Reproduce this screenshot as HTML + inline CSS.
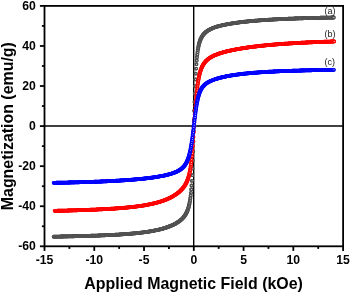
<!DOCTYPE html>
<html><head><meta charset="utf-8"><style>
html,body{margin:0;padding:0;background:#fff;}
svg{display:block;filter:blur(0.35px);}
text{font-family:"Liberation Sans",sans-serif;}
</style></head><body>
<svg width="350" height="293" viewBox="0 0 350 293">
<defs><marker id="mgray" markerWidth="6" markerHeight="6" refX="3" refY="3" markerUnits="userSpaceOnUse" overflow="visible"><circle cx="3" cy="3" r="1.2" fill="#fff" stroke="#505050" stroke-width="1.4"/></marker><marker id="mred" markerWidth="6" markerHeight="6" refX="3" refY="3" markerUnits="userSpaceOnUse" overflow="visible"><circle cx="3" cy="3" r="1.2" fill="#fff" stroke="#ff0000" stroke-width="1.4"/></marker><marker id="mblue" markerWidth="6" markerHeight="6" refX="3" refY="3" markerUnits="userSpaceOnUse" overflow="visible"><circle cx="3" cy="3" r="1.2" fill="#fff" stroke="#0000ff" stroke-width="1.4"/></marker></defs>
<rect width="350" height="293" fill="#fff"/>
<g stroke="#000" fill="none">
<line x1="193.7" y1="5.9" x2="193.7" y2="246.3" stroke-width="1.4"/>
<line x1="44.5" y1="126.1" x2="343.1" y2="126.1" stroke-width="1.5"/>
</g>
<path d="M333.54,17.48 L332.84,17.50 L332.14,17.51 L331.44,17.52 L330.74,17.54 L330.04,17.55 L329.34,17.57 L328.64,17.58 L327.94,17.59 L327.24,17.61 L326.54,17.62 L325.84,17.64 L325.14,17.65 L324.44,17.67 L323.74,17.68 L323.04,17.70 L322.34,17.72 L321.64,17.73 L320.94,17.75 L320.24,17.76 L319.54,17.78 L318.84,17.80 L318.14,17.81 L317.44,17.83 L316.74,17.85 L316.04,17.86 L315.34,17.88 L314.64,17.90 L313.94,17.92 L313.24,17.94 L312.54,17.95 L311.84,17.97 L311.14,17.99 L310.44,18.01 L309.74,18.03 L309.04,18.05 L308.35,18.07 L307.65,18.09 L306.95,18.11 L306.25,18.13 L305.55,18.15 L304.85,18.17 L304.15,18.19 L303.45,18.21 L302.75,18.23 L302.05,18.26 L301.35,18.28 L300.65,18.30 L299.95,18.32 L299.25,18.35 L298.55,18.37 L297.85,18.39 L297.15,18.42 L296.45,18.44 L295.75,18.47 L295.05,18.49 L294.35,18.52 L293.65,18.54 L292.95,18.57 L292.25,18.59 L291.55,18.62 L290.85,18.65 L290.16,18.68 L289.46,18.70 L288.76,18.73 L288.06,18.76 L287.36,18.79 L286.66,18.82 L285.96,18.85 L285.26,18.88 L284.56,18.91 L283.86,18.94 L283.16,18.97 L282.46,19.00 L281.76,19.03 L281.06,19.07 L280.36,19.10 L279.67,19.13 L278.97,19.17 L278.27,19.20 L277.57,19.24 L276.87,19.27 L276.17,19.31 L275.47,19.34 L274.77,19.38 L274.07,19.42 L273.37,19.46 L272.68,19.50 L271.98,19.54 L271.28,19.58 L270.58,19.62 L269.88,19.66 L269.18,19.70 L268.48,19.74 L267.78,19.79 L267.09,19.83 L266.39,19.88 L265.69,19.92 L264.99,19.97 L264.29,20.01 L263.59,20.06 L262.89,20.11 L262.20,20.16 L261.50,20.21 L260.80,20.26 L260.10,20.31 L259.40,20.36 L258.71,20.42 L258.01,20.47 L257.31,20.53 L256.61,20.58 L255.92,20.64 L255.22,20.70 L254.52,20.76 L253.82,20.82 L253.13,20.88 L252.43,20.94 L251.73,21.00 L251.03,21.07 L250.34,21.13 L249.64,21.20 L248.94,21.27 L248.25,21.33 L247.55,21.40 L246.85,21.48 L246.16,21.55 L245.46,21.62 L244.77,21.70 L244.07,21.77 L243.38,21.85 L242.68,21.93 L241.98,22.01 L241.29,22.10 L240.59,22.18 L239.90,22.27 L239.21,22.35 L238.51,22.44 L237.82,22.53 L237.12,22.63 L236.43,22.72 L235.74,22.82 L235.04,22.92 L234.35,23.02 L233.66,23.12 L232.97,23.23 L232.28,23.33 L231.59,23.44 L230.89,23.56 L230.20,23.67 L229.51,23.79 L228.83,23.91 L228.14,24.03 L227.45,24.16 L226.76,24.29 L226.07,24.42 L225.39,24.55 L224.70,24.69 L224.02,24.84 L223.33,24.98 L222.65,25.14 L221.97,25.29 L221.29,25.45 L220.61,25.62 L219.93,25.79 L219.25,25.96 L218.58,26.14 L217.90,26.33 L217.23,26.52 L216.56,26.72 L215.90,26.93 L215.23,27.15 L214.57,27.37 L213.91,27.61 L213.26,27.85 L212.61,28.10 L211.96,28.37 L211.32,28.64 L210.69,28.93 L210.06,29.23 L209.44,29.55 L208.83,29.88 L208.23,30.23 L207.64,30.60 L207.07,30.98 L206.50,31.38 L205.95,31.80 L205.42,32.24 L204.91,32.70 L204.42,33.17 L203.94,33.67 L203.49,34.18 L203.06,34.71 L202.65,35.26 L202.26,35.82 L201.89,36.39 L201.55,36.97 L201.22,37.57 L200.92,38.17 L200.62,38.81 L200.32,39.51 L200.02,40.26 L199.72,41.09 L199.42,41.99 L199.13,42.99 L198.83,44.11 L198.53,45.35 L198.23,46.74 L197.93,48.32 L197.63,50.11 L197.34,52.16 L197.04,54.53 L196.74,57.27 L196.44,60.46 L196.14,64.19 L195.84,68.53 L195.55,73.59 L195.25,79.44 L194.95,86.11 L194.65,93.61 L194.35,101.85 L194.05,110.68 L193.76,119.87 L193.46,130.65 L193.16,141.50 L192.86,151.57 L192.56,160.59 L192.26,168.44 L191.97,175.13 L191.67,180.78 L191.37,185.50 L191.07,189.46 L190.77,192.79 L190.48,195.60 L190.18,198.00 L189.88,200.07 L189.58,201.87 L189.28,203.44 L188.98,204.83 L188.69,206.08 L188.39,207.19 L188.09,208.20 L187.79,209.12 L187.49,209.96 L187.19,210.73 L186.90,211.44 L186.60,212.11 L186.28,212.76 L185.95,213.39 L185.60,214.02 L185.23,214.64 L184.84,215.24 L184.44,215.83 L184.01,216.41 L183.57,216.97 L183.11,217.51 L182.63,218.04 L182.14,218.55 L181.63,219.05 L181.11,219.53 L180.58,220.00 L180.04,220.45 L179.48,220.89 L178.91,221.31 L178.34,221.72 L177.75,222.11 L177.16,222.50 L176.56,222.87 L175.96,223.23 L175.35,223.57 L174.73,223.91 L174.11,224.23 L173.48,224.55 L172.85,224.86 L172.21,225.15 L171.57,225.44 L170.92,225.72 L170.28,225.99 L169.63,226.25 L168.97,226.51 L168.32,226.76 L167.66,227.00 L167.00,227.23 L166.33,227.46 L165.67,227.68 L165.00,227.89 L164.33,228.10 L163.66,228.30 L162.99,228.50 L162.31,228.69 L161.64,228.88 L160.96,229.06 L160.28,229.23 L159.60,229.40 L158.92,229.57 L158.24,229.73 L157.56,229.89 L156.87,230.04 L156.19,230.19 L155.50,230.33 L154.82,230.47 L154.13,230.61 L153.44,230.74 L152.75,230.87 L152.07,231.00 L151.38,231.12 L150.69,231.24 L150.00,231.36 L149.31,231.47 L148.61,231.58 L147.92,231.69 L147.23,231.80 L146.54,231.90 L145.84,232.00 L145.15,232.09 L144.46,232.19 L143.76,232.28 L143.07,232.37 L142.37,232.46 L141.68,232.55 L140.98,232.63 L140.29,232.71 L139.59,232.79 L138.90,232.87 L138.20,232.95 L137.51,233.02 L136.81,233.10 L136.11,233.17 L135.42,233.24 L134.72,233.30 L134.02,233.37 L133.33,233.44 L132.63,233.50 L131.93,233.56 L131.23,233.62 L130.54,233.68 L129.84,233.74 L129.14,233.80 L128.44,233.86 L127.75,233.91 L127.05,233.96 L126.35,234.02 L125.65,234.07 L124.95,234.12 L124.25,234.17 L123.56,234.22 L122.86,234.27 L122.16,234.31 L121.46,234.36 L120.76,234.40 L120.06,234.45 L119.37,234.49 L118.67,234.54 L117.97,234.58 L117.27,234.62 L116.57,234.66 L115.87,234.70 L115.17,234.74 L114.47,234.78 L113.77,234.81 L113.08,234.85 L112.38,234.89 L111.68,234.92 L110.98,234.96 L110.28,234.99 L109.58,235.03 L108.88,235.06 L108.18,235.09 L107.48,235.13 L106.78,235.16 L106.08,235.19 L105.38,235.22 L104.68,235.25 L103.99,235.28 L103.29,235.31 L102.59,235.34 L101.89,235.37 L101.19,235.40 L100.49,235.42 L99.79,235.45 L99.09,235.48 L98.39,235.50 L97.69,235.53 L96.99,235.56 L96.29,235.58 L95.59,235.61 L94.89,235.63 L94.19,235.66 L93.49,235.68 L92.79,235.70 L92.09,235.73 L91.39,235.75 L90.69,235.77 L89.99,235.79 L89.29,235.82 L88.60,235.84 L87.90,235.86 L87.20,235.88 L86.50,235.90 L85.80,235.92 L85.10,235.94 L84.40,235.96 L83.70,235.98 L83.00,236.00 L82.30,236.02 L81.60,236.04 L80.90,236.06 L80.20,236.08 L79.50,236.10 L78.80,236.12 L78.10,236.13 L77.40,236.15 L76.70,236.17 L76.00,236.19 L75.30,236.20 L74.60,236.22 L73.90,236.24 L73.20,236.25 L72.50,236.27 L71.80,236.29 L71.10,236.30 L70.40,236.32 L69.70,236.33 L69.00,236.35 L68.30,236.36 L67.60,236.38 L66.90,236.39 L66.20,236.41 L65.50,236.42 L64.80,236.44 L64.10,236.45 L63.40,236.47 L62.70,236.48 L62.00,236.50 L61.30,236.51 L60.60,236.52 L59.90,236.54 L59.20,236.55 L58.50,236.56 L57.80,236.58 L57.10,236.59 L56.40,236.60 L55.70,236.61 L55.00,236.63 L54.30,236.64 L53.60,236.65" fill="none" stroke="none" marker-start="url(#mgray)" marker-mid="url(#mgray)" marker-end="url(#mgray)"/>
<path d="M54.00,236.65 L54.70,236.64 L55.40,236.63 L56.10,236.61 L56.80,236.60 L57.50,236.59 L58.20,236.58 L58.90,236.56 L59.60,236.55 L60.30,236.54 L61.00,236.52 L61.70,236.51 L62.40,236.50 L63.10,236.48 L63.80,236.47 L64.50,236.45 L65.20,236.44 L65.90,236.42 L66.60,236.41 L67.30,236.39 L68.00,236.38 L68.70,236.36 L69.40,236.35 L70.10,236.33 L70.80,236.32 L71.50,236.30 L72.20,236.29 L72.90,236.27 L73.60,236.25 L74.30,236.24 L75.00,236.22 L75.70,236.20 L76.40,236.19 L77.10,236.17 L77.80,236.15 L78.50,236.13 L79.20,236.12 L79.90,236.10 L80.60,236.08 L81.30,236.06 L82.00,236.04 L82.70,236.02 L83.40,236.00 L84.10,235.98 L84.79,235.96 L85.49,235.94 L86.19,235.92 L86.89,235.90 L87.59,235.88 L88.29,235.86 L88.99,235.84 L89.69,235.82 L90.39,235.79 L91.09,235.77 L91.79,235.75 L92.49,235.73 L93.19,235.70 L93.89,235.68 L94.59,235.66 L95.29,235.63 L95.99,235.61 L96.69,235.58 L97.39,235.56 L98.09,235.53 L98.79,235.50 L99.49,235.48 L100.19,235.45 L100.89,235.42 L101.59,235.40 L102.28,235.37 L102.98,235.34 L103.68,235.31 L104.38,235.28 L105.08,235.25 L105.78,235.22 L106.48,235.19 L107.18,235.16 L107.88,235.13 L108.58,235.09 L109.28,235.06 L109.98,235.03 L110.68,234.99 L111.38,234.96 L112.07,234.92 L112.77,234.89 L113.47,234.85 L114.17,234.81 L114.87,234.78 L115.57,234.74 L116.27,234.70 L116.97,234.66 L117.67,234.62 L118.37,234.58 L119.06,234.54 L119.76,234.49 L120.46,234.45 L121.16,234.40 L121.86,234.36 L122.56,234.31 L123.26,234.27 L123.95,234.22 L124.65,234.17 L125.35,234.12 L126.05,234.07 L126.75,234.02 L127.45,233.96 L128.14,233.91 L128.84,233.86 L129.54,233.80 L130.24,233.74 L130.93,233.68 L131.63,233.62 L132.33,233.56 L133.03,233.50 L133.72,233.44 L134.42,233.37 L135.12,233.30 L135.81,233.24 L136.51,233.17 L137.21,233.10 L137.90,233.02 L138.60,232.95 L139.30,232.87 L139.99,232.79 L140.69,232.71 L141.38,232.63 L142.08,232.55 L142.77,232.46 L143.47,232.37 L144.16,232.28 L144.85,232.19 L145.55,232.09 L146.24,232.00 L146.93,231.90 L147.63,231.80 L148.32,231.69 L149.01,231.58 L149.70,231.47 L150.39,231.36 L151.08,231.24 L151.77,231.12 L152.46,231.00 L153.15,230.87 L153.84,230.74 L154.53,230.61 L155.22,230.47 L155.90,230.33 L156.59,230.19 L157.27,230.04 L157.96,229.89 L158.64,229.73 L159.32,229.57 L160.00,229.40 L160.68,229.23 L161.36,229.06 L162.04,228.88 L162.71,228.69 L163.39,228.50 L164.06,228.30 L164.73,228.10 L165.40,227.89 L166.07,227.68 L166.73,227.46 L167.39,227.23 L168.06,227.00 L168.71,226.76 L169.37,226.51 L170.02,226.25 L170.67,225.99 L171.32,225.72 L171.97,225.44 L172.61,225.15 L173.24,224.86 L173.88,224.55 L174.50,224.23 L175.13,223.91 L175.74,223.57 L176.36,223.23 L176.96,222.87 L177.56,222.50 L178.15,222.11 L178.74,221.72 L179.31,221.31 L179.88,220.89 L180.43,220.45 L180.98,220.00 L181.51,219.53 L182.03,219.05 L182.54,218.55 L183.03,218.04 L183.51,217.51 L183.97,216.97 L184.41,216.41 L184.83,215.83 L185.24,215.24 L185.63,214.64 L186.00,214.02 L186.35,213.39 L186.68,212.76 L187.00,212.11 L187.29,211.44 L187.59,210.73 L187.89,209.96 L188.19,209.12 L188.49,208.20 L188.78,207.19 L189.08,206.08 L189.38,204.83 L189.68,203.44 L189.98,201.87 L190.28,200.07 L190.57,198.00 L190.87,195.60 L191.17,192.79 L191.47,189.46 L191.77,185.50 L192.07,180.78 L192.36,175.13 L192.66,168.44 L192.96,160.59 L193.26,151.57 L193.56,141.50 L193.86,130.65 L194.15,119.87 L194.45,110.68 L194.75,101.85 L195.05,93.61 L195.35,86.11 L195.65,79.44 L195.94,73.59 L196.24,68.53 L196.54,64.19 L196.84,60.46 L197.14,57.27 L197.44,54.53 L197.73,52.16 L198.03,50.11 L198.33,48.32 L198.63,46.74 L198.93,45.35 L199.23,44.11 L199.52,42.99 L199.82,41.99 L200.12,41.09 L200.42,40.26 L200.72,39.51 L201.01,38.81 L201.31,38.17 L201.62,37.57 L201.94,36.97 L202.29,36.39 L202.66,35.82 L203.04,35.26 L203.45,34.71 L203.89,34.18 L204.34,33.67 L204.81,33.17 L205.31,32.70 L205.82,32.24 L206.35,31.80 L206.90,31.38 L207.46,30.98 L208.04,30.60 L208.63,30.23 L209.23,29.88 L209.84,29.55 L210.46,29.23 L211.09,28.93 L211.72,28.64 L212.36,28.37 L213.00,28.10 L213.65,27.85 L214.31,27.61 L214.97,27.37 L215.63,27.15 L216.29,26.93 L216.96,26.72 L217.63,26.52 L218.30,26.33 L218.97,26.14 L219.65,25.96 L220.33,25.79 L221.00,25.62 L221.68,25.45 L222.37,25.29 L223.05,25.14 L223.73,24.98 L224.41,24.84 L225.10,24.69 L225.78,24.55 L226.47,24.42 L227.16,24.29 L227.85,24.16 L228.53,24.03 L229.22,23.91 L229.91,23.79 L230.60,23.67 L231.29,23.56 L231.98,23.44 L232.67,23.33 L233.37,23.23 L234.06,23.12 L234.75,23.02 L235.44,22.92 L236.14,22.82 L236.83,22.72 L237.52,22.63 L238.22,22.53 L238.91,22.44 L239.60,22.35 L240.30,22.27 L240.99,22.18 L241.69,22.10 L242.38,22.01 L243.08,21.93 L243.77,21.85 L244.47,21.77 L245.16,21.70 L245.86,21.62 L246.56,21.55 L247.25,21.48 L247.95,21.40 L248.64,21.33 L249.34,21.27 L250.04,21.20 L250.73,21.13 L251.43,21.07 L252.13,21.00 L252.83,20.94 L253.52,20.88 L254.22,20.82 L254.92,20.76 L255.62,20.70 L256.31,20.64 L257.01,20.58 L257.71,20.53 L258.41,20.47 L259.10,20.42 L259.80,20.36 L260.50,20.31 L261.20,20.26 L261.90,20.21 L262.59,20.16 L263.29,20.11 L263.99,20.06 L264.69,20.01 L265.39,19.97 L266.09,19.92 L266.78,19.88 L267.48,19.83 L268.18,19.79 L268.88,19.74 L269.58,19.70 L270.28,19.66 L270.98,19.62 L271.68,19.58 L272.37,19.54 L273.07,19.50 L273.77,19.46 L274.47,19.42 L275.17,19.38 L275.87,19.34 L276.57,19.31 L277.27,19.27 L277.97,19.24 L278.66,19.20 L279.36,19.17 L280.06,19.13 L280.76,19.10 L281.46,19.07 L282.16,19.03 L282.86,19.00 L283.56,18.97 L284.26,18.94 L284.96,18.91 L285.66,18.88 L286.36,18.85 L287.06,18.82 L287.76,18.79 L288.45,18.76 L289.15,18.73 L289.85,18.70 L290.55,18.68 L291.25,18.65 L291.95,18.62 L292.65,18.59 L293.35,18.57 L294.05,18.54 L294.75,18.52 L295.45,18.49 L296.15,18.47 L296.85,18.44 L297.55,18.42 L298.25,18.39 L298.95,18.37 L299.65,18.35 L300.35,18.32 L301.05,18.30 L301.75,18.28 L302.45,18.26 L303.15,18.23 L303.84,18.21 L304.54,18.19 L305.24,18.17 L305.94,18.15 L306.64,18.13 L307.34,18.11 L308.04,18.09 L308.74,18.07 L309.44,18.05 L310.14,18.03 L310.84,18.01 L311.54,17.99 L312.24,17.97 L312.94,17.95 L313.64,17.94 L314.34,17.92 L315.04,17.90 L315.74,17.88 L316.44,17.86 L317.14,17.85 L317.84,17.83 L318.54,17.81 L319.24,17.80 L319.94,17.78 L320.64,17.76 L321.34,17.75 L322.04,17.73 L322.74,17.72 L323.44,17.70 L324.14,17.68 L324.84,17.67 L325.54,17.65 L326.24,17.64 L326.94,17.62 L327.64,17.61 L328.34,17.59 L329.04,17.58 L329.74,17.57 L330.44,17.55 L331.14,17.54 L331.84,17.52 L332.54,17.51 L333.24,17.50 L333.94,17.48" fill="none" stroke="none" marker-start="url(#mgray)" marker-mid="url(#mgray)" marker-end="url(#mgray)"/>
<path d="M333.86,41.43 L333.16,41.45 L332.46,41.48 L331.77,41.50 L331.07,41.52 L330.37,41.55 L329.67,41.57 L328.97,41.59 L328.27,41.62 L327.57,41.64 L326.87,41.66 L326.17,41.69 L325.47,41.71 L324.77,41.74 L324.07,41.76 L323.37,41.79 L322.67,41.81 L321.97,41.84 L321.27,41.87 L320.57,41.89 L319.87,41.92 L319.17,41.95 L318.47,41.97 L317.77,42.00 L317.07,42.03 L316.38,42.06 L315.68,42.09 L314.98,42.12 L314.28,42.15 L313.58,42.18 L312.88,42.20 L312.18,42.23 L311.48,42.27 L310.78,42.30 L310.08,42.33 L309.38,42.36 L308.68,42.39 L307.98,42.42 L307.28,42.46 L306.58,42.49 L305.89,42.52 L305.19,42.56 L304.49,42.59 L303.79,42.62 L303.09,42.66 L302.39,42.69 L301.69,42.73 L300.99,42.77 L300.29,42.80 L299.59,42.84 L298.89,42.88 L298.20,42.91 L297.50,42.95 L296.80,42.99 L296.10,43.03 L295.40,43.07 L294.70,43.11 L294.00,43.15 L293.30,43.19 L292.61,43.23 L291.91,43.28 L291.21,43.32 L290.51,43.36 L289.81,43.40 L289.11,43.45 L288.41,43.49 L287.71,43.54 L287.02,43.58 L286.32,43.63 L285.62,43.68 L284.92,43.73 L284.22,43.77 L283.52,43.82 L282.83,43.87 L282.13,43.92 L281.43,43.97 L280.73,44.02 L280.03,44.08 L279.34,44.13 L278.64,44.18 L277.94,44.24 L277.24,44.29 L276.54,44.35 L275.85,44.40 L275.15,44.46 L274.45,44.52 L273.75,44.57 L273.06,44.63 L272.36,44.69 L271.66,44.75 L270.96,44.82 L270.27,44.88 L269.57,44.94 L268.87,45.00 L268.18,45.07 L267.48,45.14 L266.78,45.20 L266.09,45.27 L265.39,45.34 L264.69,45.41 L264.00,45.48 L263.30,45.55 L262.60,45.62 L261.91,45.69 L261.21,45.77 L260.52,45.84 L259.82,45.92 L259.12,46.00 L258.43,46.07 L257.73,46.15 L257.04,46.23 L256.34,46.32 L255.65,46.40 L254.95,46.48 L254.26,46.57 L253.56,46.66 L252.87,46.74 L252.17,46.83 L251.48,46.92 L250.79,47.01 L250.09,47.11 L249.40,47.20 L248.71,47.30 L248.01,47.39 L247.32,47.49 L246.63,47.59 L245.94,47.69 L245.24,47.80 L244.55,47.90 L243.86,48.01 L243.17,48.12 L242.48,48.23 L241.79,48.34 L241.09,48.45 L240.40,48.56 L239.71,48.68 L239.02,48.80 L238.34,48.92 L237.65,49.04 L236.96,49.17 L236.27,49.29 L235.58,49.42 L234.89,49.56 L234.21,49.69 L233.52,49.83 L232.84,49.96 L232.15,50.11 L231.47,50.25 L230.78,50.40 L230.10,50.55 L229.41,50.70 L228.73,50.85 L228.05,51.01 L227.37,51.17 L226.69,51.34 L226.01,51.51 L225.34,51.68 L224.66,51.86 L223.98,52.04 L223.31,52.23 L222.64,52.42 L221.96,52.61 L221.29,52.81 L220.63,53.02 L219.96,53.23 L219.30,53.45 L218.64,53.67 L217.98,53.91 L217.32,54.14 L216.67,54.39 L216.02,54.64 L215.37,54.91 L214.73,55.18 L214.09,55.46 L213.46,55.75 L212.83,56.06 L212.21,56.37 L211.59,56.70 L210.99,57.04 L210.39,57.39 L209.80,57.76 L209.22,58.14 L208.65,58.54 L208.10,58.96 L207.56,59.39 L207.03,59.83 L206.52,60.29 L206.03,60.77 L205.55,61.27 L205.09,61.78 L204.65,62.30 L204.23,62.84 L203.83,63.40 L203.44,63.96 L203.08,64.54 L202.73,65.13 L202.41,65.72 L202.09,66.33 L201.80,66.95 L201.50,67.62 L201.20,68.34 L200.90,69.11 L200.60,69.94 L200.30,70.84 L200.01,71.81 L199.71,72.87 L199.41,74.03 L199.11,75.28 L198.81,76.66 L198.51,78.16 L198.22,79.81 L197.92,81.61 L197.62,83.59 L197.32,85.74 L197.02,88.10 L196.73,90.65 L196.43,93.42 L196.13,96.40 L195.83,99.59 L195.53,102.99 L195.23,106.56 L194.94,110.29 L194.64,114.15 L194.34,118.09 L194.04,122.12 L193.74,127.19 L193.44,132.16 L193.15,136.95 L192.85,141.51 L192.55,145.77 L192.25,149.72 L191.95,153.33 L191.65,156.60 L191.36,159.56 L191.06,162.22 L190.76,164.60 L190.46,166.74 L190.16,168.66 L189.86,170.38 L189.57,171.94 L189.27,173.34 L188.97,174.62 L188.67,175.78 L188.37,176.85 L188.07,177.83 L187.78,178.73 L187.48,179.57 L187.18,180.35 L186.88,181.08 L186.58,181.76 L186.28,182.41 L185.96,183.05 L185.63,183.69 L185.28,184.31 L184.92,184.93 L184.54,185.53 L184.14,186.13 L183.73,186.71 L183.31,187.28 L182.87,187.84 L182.42,188.39 L181.95,188.93 L181.47,189.45 L180.98,189.96 L180.48,190.46 L179.97,190.95 L179.45,191.43 L178.92,191.89 L178.38,192.34 L177.83,192.79 L177.27,193.22 L176.70,193.64 L176.13,194.05 L175.55,194.45 L174.97,194.84 L174.38,195.22 L173.78,195.59 L173.18,195.96 L172.57,196.31 L171.96,196.65 L171.34,196.99 L170.72,197.32 L170.09,197.64 L169.46,197.95 L168.83,198.25 L168.19,198.55 L167.55,198.84 L166.91,199.12 L166.26,199.39 L165.61,199.66 L164.96,199.92 L164.31,200.17 L163.65,200.41 L162.99,200.65 L162.33,200.89 L161.67,201.12 L161.00,201.34 L160.34,201.55 L159.67,201.76 L159.00,201.97 L158.33,202.17 L157.65,202.36 L156.98,202.55 L156.30,202.74 L155.62,202.91 L154.95,203.09 L154.27,203.26 L153.59,203.43 L152.90,203.59 L152.22,203.74 L151.54,203.90 L150.85,204.05 L150.17,204.19 L149.48,204.33 L148.80,204.47 L148.11,204.61 L147.42,204.74 L146.73,204.87 L146.04,204.99 L145.35,205.12 L144.66,205.23 L143.97,205.35 L143.28,205.46 L142.59,205.57 L141.90,205.68 L141.21,205.79 L140.52,205.89 L139.82,205.99 L139.13,206.09 L138.44,206.19 L137.74,206.28 L137.05,206.37 L136.35,206.46 L135.66,206.55 L134.96,206.63 L134.27,206.72 L133.57,206.80 L132.88,206.88 L132.18,206.96 L131.49,207.04 L130.79,207.11 L130.09,207.18 L129.40,207.26 L128.70,207.33 L128.00,207.40 L127.31,207.46 L126.61,207.53 L125.91,207.60 L125.22,207.66 L124.52,207.72 L123.82,207.78 L123.12,207.84 L122.43,207.90 L121.73,207.96 L121.03,208.02 L120.33,208.07 L119.64,208.13 L118.94,208.18 L118.24,208.24 L117.54,208.29 L116.84,208.34 L116.15,208.39 L115.45,208.44 L114.75,208.49 L114.05,208.53 L113.35,208.58 L112.65,208.63 L111.96,208.67 L111.26,208.72 L110.56,208.76 L109.86,208.80 L109.16,208.84 L108.46,208.89 L107.76,208.93 L107.06,208.97 L106.36,209.01 L105.67,209.05 L104.97,209.08 L104.27,209.12 L103.57,209.16 L102.87,209.20 L102.17,209.23 L101.47,209.27 L100.77,209.30 L100.07,209.34 L99.37,209.37 L98.68,209.40 L97.98,209.44 L97.28,209.47 L96.58,209.50 L95.88,209.53 L95.18,209.56 L94.48,209.60 L93.78,209.63 L93.08,209.66 L92.38,209.68 L91.68,209.71 L90.98,209.74 L90.28,209.77 L89.58,209.80 L88.88,209.83 L88.18,209.85 L87.49,209.88 L86.79,209.91 L86.09,209.93 L85.39,209.96 L84.69,209.98 L83.99,210.01 L83.29,210.03 L82.59,210.06 L81.89,210.08 L81.19,210.11 L80.49,210.13 L79.79,210.15 L79.09,210.18 L78.39,210.20 L77.69,210.22 L76.99,210.24 L76.29,210.27 L75.59,210.29 L74.89,210.31 L74.19,210.33 L73.49,210.35 L72.79,210.37 L72.09,210.39 L71.39,210.41 L70.69,210.43 L69.99,210.45 L69.29,210.47 L68.59,210.49 L67.90,210.51 L67.20,210.53 L66.50,210.55 L65.80,210.57 L65.10,210.58 L64.40,210.60 L63.70,210.62 L63.00,210.64 L62.30,210.66 L61.60,210.67 L60.90,210.69 L60.20,210.71 L59.50,210.72 L58.80,210.74 L58.10,210.76 L57.40,210.77 L56.70,210.79 L56.00,210.80 L55.30,210.82 L54.60,210.84" fill="none" stroke="none" marker-start="url(#mred)" marker-mid="url(#mred)" marker-end="url(#mred)"/>
<path d="M55.00,210.84 L55.70,210.82 L56.40,210.80 L57.10,210.79 L57.80,210.77 L58.50,210.76 L59.20,210.74 L59.90,210.72 L60.60,210.71 L61.30,210.69 L61.99,210.67 L62.69,210.66 L63.39,210.64 L64.09,210.62 L64.79,210.60 L65.49,210.58 L66.19,210.57 L66.89,210.55 L67.59,210.53 L68.29,210.51 L68.99,210.49 L69.69,210.47 L70.39,210.45 L71.09,210.43 L71.79,210.41 L72.49,210.39 L73.19,210.37 L73.89,210.35 L74.59,210.33 L75.29,210.31 L75.99,210.29 L76.69,210.27 L77.39,210.24 L78.09,210.22 L78.79,210.20 L79.49,210.18 L80.19,210.15 L80.89,210.13 L81.59,210.11 L82.29,210.08 L82.99,210.06 L83.69,210.03 L84.39,210.01 L85.08,209.98 L85.78,209.96 L86.48,209.93 L87.18,209.91 L87.88,209.88 L88.58,209.85 L89.28,209.83 L89.98,209.80 L90.68,209.77 L91.38,209.74 L92.08,209.71 L92.78,209.68 L93.48,209.66 L94.18,209.63 L94.88,209.60 L95.58,209.56 L96.28,209.53 L96.98,209.50 L97.67,209.47 L98.37,209.44 L99.07,209.40 L99.77,209.37 L100.47,209.34 L101.17,209.30 L101.87,209.27 L102.57,209.23 L103.27,209.20 L103.97,209.16 L104.67,209.12 L105.36,209.08 L106.06,209.05 L106.76,209.01 L107.46,208.97 L108.16,208.93 L108.86,208.89 L109.56,208.84 L110.26,208.80 L110.96,208.76 L111.65,208.72 L112.35,208.67 L113.05,208.63 L113.75,208.58 L114.45,208.53 L115.15,208.49 L115.85,208.44 L116.54,208.39 L117.24,208.34 L117.94,208.29 L118.64,208.24 L119.34,208.18 L120.03,208.13 L120.73,208.07 L121.43,208.02 L122.13,207.96 L122.82,207.90 L123.52,207.84 L124.22,207.78 L124.92,207.72 L125.61,207.66 L126.31,207.60 L127.01,207.53 L127.71,207.46 L128.40,207.40 L129.10,207.33 L129.80,207.26 L130.49,207.18 L131.19,207.11 L131.88,207.04 L132.58,206.96 L133.28,206.88 L133.97,206.80 L134.67,206.72 L135.36,206.63 L136.06,206.55 L136.75,206.46 L137.45,206.37 L138.14,206.28 L138.83,206.19 L139.53,206.09 L140.22,205.99 L140.91,205.89 L141.61,205.79 L142.30,205.68 L142.99,205.57 L143.68,205.46 L144.37,205.35 L145.06,205.23 L145.75,205.12 L146.44,204.99 L147.13,204.87 L147.82,204.74 L148.51,204.61 L149.19,204.47 L149.88,204.33 L150.57,204.19 L151.25,204.05 L151.94,203.90 L152.62,203.74 L153.30,203.59 L153.98,203.43 L154.66,203.26 L155.34,203.09 L156.02,202.91 L156.70,202.74 L157.38,202.55 L158.05,202.36 L158.72,202.17 L159.40,201.97 L160.07,201.76 L160.73,201.55 L161.40,201.34 L162.07,201.12 L162.73,200.89 L163.39,200.65 L164.05,200.41 L164.71,200.17 L165.36,199.92 L166.01,199.66 L166.66,199.39 L167.31,199.12 L167.95,198.84 L168.59,198.55 L169.23,198.25 L169.86,197.95 L170.49,197.64 L171.11,197.32 L171.74,196.99 L172.35,196.65 L172.97,196.31 L173.57,195.96 L174.18,195.59 L174.77,195.22 L175.36,194.84 L175.95,194.45 L176.53,194.05 L177.10,193.64 L177.67,193.22 L178.22,192.79 L178.77,192.34 L179.31,191.89 L179.85,191.43 L180.37,190.95 L180.88,190.46 L181.38,189.96 L181.87,189.45 L182.35,188.93 L182.81,188.39 L183.27,187.84 L183.71,187.28 L184.13,186.71 L184.54,186.13 L184.93,185.53 L185.31,184.93 L185.68,184.31 L186.03,183.69 L186.36,183.05 L186.68,182.41 L186.98,181.76 L187.28,181.08 L187.58,180.35 L187.88,179.57 L188.17,178.73 L188.47,177.83 L188.77,176.85 L189.07,175.78 L189.37,174.62 L189.67,173.34 L189.96,171.94 L190.26,170.38 L190.56,168.66 L190.86,166.74 L191.16,164.60 L191.46,162.22 L191.75,159.56 L192.05,156.60 L192.35,153.33 L192.65,149.72 L192.95,145.77 L193.25,141.51 L193.54,136.95 L193.84,132.16 L194.14,127.19 L194.44,122.12 L194.74,118.09 L195.03,114.15 L195.33,110.29 L195.63,106.56 L195.93,102.99 L196.23,99.59 L196.53,96.40 L196.82,93.42 L197.12,90.65 L197.42,88.10 L197.72,85.74 L198.02,83.59 L198.32,81.61 L198.61,79.81 L198.91,78.16 L199.21,76.66 L199.51,75.28 L199.81,74.03 L200.11,72.87 L200.40,71.81 L200.70,70.84 L201.00,69.94 L201.30,69.11 L201.60,68.34 L201.90,67.62 L202.19,66.95 L202.49,66.33 L202.80,65.72 L203.13,65.13 L203.48,64.54 L203.84,63.96 L204.22,63.40 L204.63,62.84 L205.05,62.30 L205.49,61.78 L205.95,61.27 L206.42,60.77 L206.92,60.29 L207.43,59.83 L207.95,59.39 L208.50,58.96 L209.05,58.54 L209.62,58.14 L210.20,57.76 L210.79,57.39 L211.38,57.04 L211.99,56.70 L212.60,56.37 L213.23,56.06 L213.85,55.75 L214.49,55.46 L215.12,55.18 L215.77,54.91 L216.41,54.64 L217.06,54.39 L217.72,54.14 L218.37,53.91 L219.03,53.67 L219.69,53.45 L220.36,53.23 L221.02,53.02 L221.69,52.81 L222.36,52.61 L223.03,52.42 L223.71,52.23 L224.38,52.04 L225.06,51.86 L225.73,51.68 L226.41,51.51 L227.09,51.34 L227.77,51.17 L228.45,51.01 L229.13,50.85 L229.81,50.70 L230.50,50.55 L231.18,50.40 L231.86,50.25 L232.55,50.11 L233.23,49.96 L233.92,49.83 L234.61,49.69 L235.29,49.56 L235.98,49.42 L236.67,49.29 L237.36,49.17 L238.04,49.04 L238.73,48.92 L239.42,48.80 L240.11,48.68 L240.80,48.56 L241.49,48.45 L242.18,48.34 L242.87,48.23 L243.57,48.12 L244.26,48.01 L244.95,47.90 L245.64,47.80 L246.33,47.69 L247.03,47.59 L247.72,47.49 L248.41,47.39 L249.10,47.30 L249.80,47.20 L250.49,47.11 L251.18,47.01 L251.88,46.92 L252.57,46.83 L253.27,46.74 L253.96,46.66 L254.66,46.57 L255.35,46.48 L256.05,46.40 L256.74,46.32 L257.44,46.23 L258.13,46.15 L258.83,46.07 L259.52,46.00 L260.22,45.92 L260.91,45.84 L261.61,45.77 L262.31,45.69 L263.00,45.62 L263.70,45.55 L264.39,45.48 L265.09,45.41 L265.79,45.34 L266.48,45.27 L267.18,45.20 L267.88,45.14 L268.57,45.07 L269.27,45.00 L269.97,44.94 L270.66,44.88 L271.36,44.82 L272.06,44.75 L272.76,44.69 L273.45,44.63 L274.15,44.57 L274.85,44.52 L275.55,44.46 L276.24,44.40 L276.94,44.35 L277.64,44.29 L278.34,44.24 L279.04,44.18 L279.73,44.13 L280.43,44.08 L281.13,44.02 L281.83,43.97 L282.53,43.92 L283.22,43.87 L283.92,43.82 L284.62,43.77 L285.32,43.73 L286.02,43.68 L286.72,43.63 L287.41,43.58 L288.11,43.54 L288.81,43.49 L289.51,43.45 L290.21,43.40 L290.91,43.36 L291.61,43.32 L292.30,43.28 L293.00,43.23 L293.70,43.19 L294.40,43.15 L295.10,43.11 L295.80,43.07 L296.50,43.03 L297.20,42.99 L297.89,42.95 L298.59,42.91 L299.29,42.88 L299.99,42.84 L300.69,42.80 L301.39,42.77 L302.09,42.73 L302.79,42.69 L303.49,42.66 L304.19,42.62 L304.89,42.59 L305.58,42.56 L306.28,42.52 L306.98,42.49 L307.68,42.46 L308.38,42.42 L309.08,42.39 L309.78,42.36 L310.48,42.33 L311.18,42.30 L311.88,42.27 L312.58,42.23 L313.28,42.20 L313.98,42.18 L314.67,42.15 L315.37,42.12 L316.07,42.09 L316.77,42.06 L317.47,42.03 L318.17,42.00 L318.87,41.97 L319.57,41.95 L320.27,41.92 L320.97,41.89 L321.67,41.87 L322.37,41.84 L323.07,41.81 L323.77,41.79 L324.47,41.76 L325.17,41.74 L325.87,41.71 L326.57,41.69 L327.27,41.66 L327.97,41.64 L328.66,41.62 L329.36,41.59 L330.06,41.57 L330.76,41.55 L331.46,41.52 L332.16,41.50 L332.86,41.48 L333.56,41.45 L334.26,41.43" fill="none" stroke="none" marker-start="url(#mred)" marker-mid="url(#mred)" marker-end="url(#mred)"/>
<path d="M333.58,69.81 L332.88,69.82 L332.18,69.83 L331.48,69.84 L330.78,69.85 L330.08,69.86 L329.38,69.88 L328.68,69.89 L327.98,69.90 L327.28,69.91 L326.58,69.93 L325.88,69.94 L325.18,69.95 L324.48,69.96 L323.78,69.98 L323.08,69.99 L322.38,70.00 L321.68,70.02 L320.98,70.03 L320.28,70.04 L319.58,70.06 L318.88,70.07 L318.18,70.09 L317.48,70.10 L316.78,70.12 L316.08,70.13 L315.38,70.15 L314.68,70.16 L313.98,70.18 L313.28,70.19 L312.58,70.21 L311.88,70.22 L311.18,70.24 L310.48,70.25 L309.78,70.27 L309.08,70.29 L308.39,70.30 L307.69,70.32 L306.99,70.34 L306.29,70.36 L305.59,70.37 L304.89,70.39 L304.19,70.41 L303.49,70.43 L302.79,70.45 L302.09,70.46 L301.39,70.48 L300.69,70.50 L299.99,70.52 L299.29,70.54 L298.59,70.56 L297.89,70.58 L297.19,70.60 L296.49,70.62 L295.79,70.64 L295.09,70.67 L294.39,70.69 L293.69,70.71 L292.99,70.73 L292.29,70.75 L291.59,70.78 L290.89,70.80 L290.19,70.82 L289.49,70.85 L288.79,70.87 L288.09,70.90 L287.39,70.92 L286.69,70.95 L286.00,70.97 L285.30,71.00 L284.60,71.03 L283.90,71.05 L283.20,71.08 L282.50,71.11 L281.80,71.14 L281.10,71.16 L280.40,71.19 L279.70,71.22 L279.00,71.25 L278.30,71.28 L277.60,71.31 L276.90,71.35 L276.20,71.38 L275.50,71.41 L274.81,71.44 L274.11,71.48 L273.41,71.51 L272.71,71.55 L272.01,71.58 L271.31,71.62 L270.61,71.65 L269.91,71.69 L269.21,71.73 L268.51,71.77 L267.81,71.81 L267.12,71.85 L266.42,71.89 L265.72,71.93 L265.02,71.97 L264.32,72.01 L263.62,72.05 L262.92,72.10 L262.23,72.14 L261.53,72.19 L260.83,72.24 L260.13,72.28 L259.43,72.33 L258.73,72.38 L258.04,72.43 L257.34,72.48 L256.64,72.54 L255.94,72.59 L255.24,72.64 L254.55,72.70 L253.85,72.76 L253.15,72.81 L252.45,72.87 L251.76,72.93 L251.06,72.99 L250.36,73.06 L249.66,73.12 L248.97,73.19 L248.27,73.25 L247.57,73.32 L246.88,73.39 L246.18,73.46 L245.49,73.53 L244.79,73.61 L244.09,73.68 L243.40,73.76 L242.70,73.84 L242.01,73.92 L241.31,74.00 L240.62,74.08 L239.92,74.17 L239.23,74.25 L238.53,74.34 L237.84,74.44 L237.15,74.53 L236.45,74.62 L235.76,74.72 L235.07,74.82 L234.37,74.92 L233.68,75.03 L232.99,75.14 L232.30,75.24 L231.61,75.36 L230.92,75.47 L230.23,75.59 L229.54,75.71 L228.85,75.83 L228.16,75.96 L227.48,76.09 L226.79,76.22 L226.10,76.36 L225.42,76.50 L224.73,76.64 L224.05,76.79 L223.36,76.94 L222.68,77.09 L222.00,77.25 L221.32,77.41 L220.64,77.58 L219.96,77.75 L219.29,77.93 L218.61,78.11 L217.94,78.30 L217.27,78.50 L216.60,78.70 L215.93,78.91 L215.27,79.12 L214.61,79.35 L213.95,79.58 L213.29,79.81 L212.64,80.06 L211.99,80.32 L211.35,80.59 L210.71,80.87 L210.07,81.16 L209.45,81.47 L208.83,81.78 L208.22,82.12 L207.62,82.46 L207.03,82.83 L206.45,83.21 L205.89,83.61 L205.34,84.03 L204.80,84.46 L204.29,84.92 L203.79,85.40 L203.32,85.89 L202.87,86.40 L202.44,86.93 L202.03,87.48 L201.64,88.04 L201.28,88.61 L200.94,89.20 L200.61,89.79 L200.31,90.40 L200.01,91.05 L199.71,91.74 L199.41,92.50 L199.12,93.32 L198.82,94.22 L198.52,95.19 L198.22,96.25 L197.92,97.41 L197.62,98.67 L197.33,100.03 L197.03,101.52 L196.73,103.12 L196.43,104.85 L196.13,106.70 L195.84,108.67 L195.54,110.75 L195.24,112.94 L194.94,115.21 L194.64,117.55 L194.34,119.93 L194.05,122.37 L193.75,124.96 L193.45,127.52 L193.15,130.03 L192.85,132.49 L192.55,134.87 L192.26,137.16 L191.96,139.35 L191.66,141.44 L191.36,143.41 L191.06,145.27 L190.76,147.01 L190.47,148.65 L190.17,150.17 L189.87,151.59 L189.57,152.90 L189.27,154.13 L188.97,155.26 L188.68,156.32 L188.38,157.29 L188.08,158.20 L187.78,159.05 L187.48,159.83 L187.18,160.56 L186.89,161.24 L186.58,161.89 L186.26,162.54 L185.91,163.17 L185.55,163.79 L185.17,164.40 L184.76,164.99 L184.33,165.57 L183.89,166.13 L183.42,166.67 L182.93,167.19 L182.42,167.69 L181.89,168.17 L181.35,168.63 L180.79,169.07 L180.22,169.48 L179.63,169.88 L179.03,170.26 L178.42,170.61 L177.81,170.96 L177.18,171.28 L176.55,171.59 L175.91,171.88 L175.27,172.16 L174.62,172.43 L173.96,172.69 L173.30,172.93 L172.64,173.17 L171.98,173.39 L171.31,173.61 L170.64,173.81 L169.97,174.01 L169.29,174.21 L168.62,174.39 L167.94,174.57 L167.26,174.75 L166.58,174.91 L165.90,175.08 L165.22,175.23 L164.53,175.39 L163.85,175.53 L163.16,175.68 L162.48,175.82 L161.79,175.95 L161.10,176.09 L160.41,176.21 L159.73,176.34 L159.04,176.46 L158.35,176.58 L157.66,176.70 L156.96,176.81 L156.27,176.92 L155.58,177.03 L154.89,177.14 L154.20,177.24 L153.50,177.34 L152.81,177.44 L152.12,177.54 L151.42,177.63 L150.73,177.73 L150.04,177.82 L149.34,177.91 L148.65,177.99 L147.95,178.08 L147.26,178.17 L146.56,178.25 L145.87,178.33 L145.17,178.41 L144.48,178.49 L143.78,178.56 L143.08,178.64 L142.39,178.71 L141.69,178.78 L140.99,178.86 L140.30,178.93 L139.60,178.99 L138.90,179.06 L138.21,179.13 L137.51,179.19 L136.81,179.26 L136.12,179.32 L135.42,179.38 L134.72,179.44 L134.02,179.50 L133.33,179.56 L132.63,179.62 L131.93,179.68 L131.23,179.73 L130.54,179.79 L129.84,179.84 L129.14,179.89 L128.44,179.95 L127.74,180.00 L127.05,180.05 L126.35,180.10 L125.65,180.15 L124.95,180.20 L124.25,180.24 L123.55,180.29 L122.85,180.34 L122.16,180.38 L121.46,180.43 L120.76,180.47 L120.06,180.51 L119.36,180.56 L118.66,180.60 L117.96,180.64 L117.27,180.68 L116.57,180.72 L115.87,180.76 L115.17,180.80 L114.47,180.84 L113.77,180.88 L113.07,180.92 L112.37,180.95 L111.67,180.99 L110.97,181.02 L110.28,181.06 L109.58,181.09 L108.88,181.13 L108.18,181.16 L107.48,181.20 L106.78,181.23 L106.08,181.26 L105.38,181.29 L104.68,181.32 L103.98,181.36 L103.28,181.39 L102.58,181.42 L101.88,181.45 L101.18,181.48 L100.49,181.51 L99.79,181.53 L99.09,181.56 L98.39,181.59 L97.69,181.62 L96.99,181.65 L96.29,181.67 L95.59,181.70 L94.89,181.72 L94.19,181.75 L93.49,181.78 L92.79,181.80 L92.09,181.83 L91.39,181.85 L90.69,181.87 L89.99,181.90 L89.29,181.92 L88.59,181.95 L87.89,181.97 L87.19,181.99 L86.49,182.01 L85.80,182.04 L85.10,182.06 L84.40,182.08 L83.70,182.10 L83.00,182.12 L82.30,182.14 L81.60,182.16 L80.90,182.18 L80.20,182.20 L79.50,182.22 L78.80,182.24 L78.10,182.26 L77.40,182.28 L76.70,182.30 L76.00,182.32 L75.30,182.34 L74.60,182.36 L73.90,182.38 L73.20,182.39 L72.50,182.41 L71.80,182.43 L71.10,182.45 L70.40,182.46 L69.70,182.48 L69.00,182.50 L68.30,182.52 L67.60,182.53 L66.90,182.55 L66.20,182.56 L65.50,182.58 L64.80,182.60 L64.10,182.61 L63.40,182.63 L62.70,182.64 L62.00,182.66 L61.30,182.67 L60.60,182.69 L59.90,182.70 L59.20,182.72 L58.50,182.73 L57.80,182.75 L57.10,182.76 L56.40,182.77 L55.70,182.79 L55.00,182.80 L54.30,182.81 L53.60,182.83" fill="none" stroke="none" marker-start="url(#mblue)" marker-mid="url(#mblue)" marker-end="url(#mblue)"/>
<path d="M54.00,182.83 L54.70,182.81 L55.40,182.80 L56.10,182.79 L56.80,182.77 L57.50,182.76 L58.20,182.75 L58.90,182.73 L59.60,182.72 L60.30,182.70 L61.00,182.69 L61.70,182.67 L62.40,182.66 L63.10,182.64 L63.80,182.63 L64.50,182.61 L65.20,182.60 L65.90,182.58 L66.60,182.56 L67.30,182.55 L68.00,182.53 L68.70,182.52 L69.40,182.50 L70.10,182.48 L70.80,182.46 L71.50,182.45 L72.20,182.43 L72.90,182.41 L73.60,182.39 L74.30,182.38 L75.00,182.36 L75.70,182.34 L76.40,182.32 L77.10,182.30 L77.80,182.28 L78.50,182.26 L79.20,182.24 L79.90,182.22 L80.60,182.20 L81.29,182.18 L81.99,182.16 L82.69,182.14 L83.39,182.12 L84.09,182.10 L84.79,182.08 L85.49,182.06 L86.19,182.04 L86.89,182.01 L87.59,181.99 L88.29,181.97 L88.99,181.95 L89.69,181.92 L90.39,181.90 L91.09,181.87 L91.79,181.85 L92.49,181.83 L93.19,181.80 L93.89,181.78 L94.59,181.75 L95.29,181.72 L95.99,181.70 L96.69,181.67 L97.39,181.65 L98.09,181.62 L98.78,181.59 L99.48,181.56 L100.18,181.53 L100.88,181.51 L101.58,181.48 L102.28,181.45 L102.98,181.42 L103.68,181.39 L104.38,181.36 L105.08,181.32 L105.78,181.29 L106.48,181.26 L107.18,181.23 L107.88,181.20 L108.58,181.16 L109.27,181.13 L109.97,181.09 L110.67,181.06 L111.37,181.02 L112.07,180.99 L112.77,180.95 L113.47,180.92 L114.17,180.88 L114.87,180.84 L115.57,180.80 L116.27,180.76 L116.96,180.72 L117.66,180.68 L118.36,180.64 L119.06,180.60 L119.76,180.56 L120.46,180.51 L121.16,180.47 L121.86,180.43 L122.55,180.38 L123.25,180.34 L123.95,180.29 L124.65,180.24 L125.35,180.20 L126.05,180.15 L126.74,180.10 L127.44,180.05 L128.14,180.00 L128.84,179.95 L129.54,179.89 L130.24,179.84 L130.93,179.79 L131.63,179.73 L132.33,179.68 L133.03,179.62 L133.72,179.56 L134.42,179.50 L135.12,179.44 L135.82,179.38 L136.51,179.32 L137.21,179.26 L137.91,179.19 L138.61,179.13 L139.30,179.06 L140.00,178.99 L140.70,178.93 L141.39,178.86 L142.09,178.78 L142.79,178.71 L143.48,178.64 L144.18,178.56 L144.87,178.49 L145.57,178.41 L146.26,178.33 L146.96,178.25 L147.65,178.17 L148.35,178.08 L149.04,177.99 L149.74,177.91 L150.43,177.82 L151.13,177.73 L151.82,177.63 L152.52,177.54 L153.21,177.44 L153.90,177.34 L154.59,177.24 L155.29,177.14 L155.98,177.03 L156.67,176.92 L157.36,176.81 L158.05,176.70 L158.74,176.58 L159.43,176.46 L160.12,176.34 L160.81,176.21 L161.50,176.09 L162.19,175.95 L162.88,175.82 L163.56,175.68 L164.25,175.53 L164.93,175.39 L165.62,175.23 L166.30,175.08 L166.98,174.91 L167.66,174.75 L168.34,174.57 L169.02,174.39 L169.69,174.21 L170.37,174.01 L171.04,173.81 L171.71,173.61 L172.38,173.39 L173.04,173.17 L173.70,172.93 L174.36,172.69 L175.01,172.43 L175.66,172.16 L176.31,171.88 L176.95,171.59 L177.58,171.28 L178.21,170.96 L178.82,170.61 L179.43,170.26 L180.03,169.88 L180.61,169.48 L181.19,169.07 L181.75,168.63 L182.29,168.17 L182.82,167.69 L183.33,167.19 L183.82,166.67 L184.28,166.13 L184.73,165.57 L185.16,164.99 L185.56,164.40 L185.95,163.79 L186.31,163.17 L186.65,162.54 L186.98,161.89 L187.28,161.24 L187.58,160.56 L187.88,159.83 L188.18,159.05 L188.48,158.20 L188.78,157.29 L189.07,156.32 L189.37,155.26 L189.67,154.13 L189.97,152.90 L190.27,151.59 L190.57,150.17 L190.86,148.65 L191.16,147.01 L191.46,145.27 L191.76,143.41 L192.06,141.44 L192.36,139.35 L192.65,137.16 L192.95,134.87 L193.25,132.49 L193.55,130.03 L193.85,127.52 L194.14,124.96 L194.44,122.37 L194.74,119.93 L195.04,117.55 L195.34,115.21 L195.64,112.94 L195.93,110.75 L196.23,108.67 L196.53,106.70 L196.83,104.85 L197.13,103.12 L197.43,101.52 L197.72,100.03 L198.02,98.67 L198.32,97.41 L198.62,96.25 L198.92,95.19 L199.22,94.22 L199.51,93.32 L199.81,92.50 L200.11,91.74 L200.41,91.05 L200.71,90.40 L201.01,89.79 L201.33,89.20 L201.68,88.61 L202.04,88.04 L202.42,87.48 L202.83,86.93 L203.26,86.40 L203.72,85.89 L204.19,85.40 L204.69,84.92 L205.20,84.46 L205.73,84.03 L206.28,83.61 L206.85,83.21 L207.43,82.83 L208.02,82.46 L208.62,82.12 L209.23,81.78 L209.85,81.47 L210.47,81.16 L211.10,80.87 L211.74,80.59 L212.39,80.32 L213.04,80.06 L213.69,79.81 L214.34,79.58 L215.00,79.35 L215.67,79.12 L216.33,78.91 L217.00,78.70 L217.67,78.50 L218.34,78.30 L219.01,78.11 L219.69,77.93 L220.36,77.75 L221.04,77.58 L221.72,77.41 L222.40,77.25 L223.08,77.09 L223.76,76.94 L224.45,76.79 L225.13,76.64 L225.81,76.50 L226.50,76.36 L227.19,76.22 L227.87,76.09 L228.56,75.96 L229.25,75.83 L229.94,75.71 L230.63,75.59 L231.32,75.47 L232.01,75.36 L232.70,75.24 L233.39,75.14 L234.08,75.03 L234.77,74.92 L235.46,74.82 L236.16,74.72 L236.85,74.62 L237.54,74.53 L238.24,74.44 L238.93,74.34 L239.63,74.25 L240.32,74.17 L241.01,74.08 L241.71,74.00 L242.40,73.92 L243.10,73.84 L243.80,73.76 L244.49,73.68 L245.19,73.61 L245.88,73.53 L246.58,73.46 L247.28,73.39 L247.97,73.32 L248.67,73.25 L249.37,73.19 L250.06,73.12 L250.76,73.06 L251.46,72.99 L252.15,72.93 L252.85,72.87 L253.55,72.81 L254.25,72.76 L254.94,72.70 L255.64,72.64 L256.34,72.59 L257.04,72.54 L257.74,72.48 L258.43,72.43 L259.13,72.38 L259.83,72.33 L260.53,72.28 L261.23,72.24 L261.92,72.19 L262.62,72.14 L263.32,72.10 L264.02,72.05 L264.72,72.01 L265.42,71.97 L266.12,71.93 L266.82,71.89 L267.51,71.85 L268.21,71.81 L268.91,71.77 L269.61,71.73 L270.31,71.69 L271.01,71.65 L271.71,71.62 L272.41,71.58 L273.11,71.55 L273.80,71.51 L274.50,71.48 L275.20,71.44 L275.90,71.41 L276.60,71.38 L277.30,71.35 L278.00,71.31 L278.70,71.28 L279.40,71.25 L280.10,71.22 L280.80,71.19 L281.50,71.16 L282.20,71.14 L282.90,71.11 L283.60,71.08 L284.29,71.05 L284.99,71.03 L285.69,71.00 L286.39,70.97 L287.09,70.95 L287.79,70.92 L288.49,70.90 L289.19,70.87 L289.89,70.85 L290.59,70.82 L291.29,70.80 L291.99,70.78 L292.69,70.75 L293.39,70.73 L294.09,70.71 L294.79,70.69 L295.49,70.67 L296.19,70.64 L296.89,70.62 L297.59,70.60 L298.29,70.58 L298.99,70.56 L299.69,70.54 L300.39,70.52 L301.09,70.50 L301.79,70.48 L302.48,70.46 L303.18,70.45 L303.88,70.43 L304.58,70.41 L305.28,70.39 L305.98,70.37 L306.68,70.36 L307.38,70.34 L308.08,70.32 L308.78,70.30 L309.48,70.29 L310.18,70.27 L310.88,70.25 L311.58,70.24 L312.28,70.22 L312.98,70.21 L313.68,70.19 L314.38,70.18 L315.08,70.16 L315.78,70.15 L316.48,70.13 L317.18,70.12 L317.88,70.10 L318.58,70.09 L319.28,70.07 L319.98,70.06 L320.68,70.04 L321.38,70.03 L322.08,70.02 L322.78,70.00 L323.48,69.99 L324.18,69.98 L324.88,69.96 L325.58,69.95 L326.28,69.94 L326.98,69.93 L327.68,69.91 L328.38,69.90 L329.08,69.89 L329.78,69.88 L330.48,69.86 L331.18,69.85 L331.88,69.84 L332.58,69.83 L333.28,69.82 L333.98,69.81" fill="none" stroke="none" marker-start="url(#mblue)" marker-mid="url(#mblue)" marker-end="url(#mblue)"/>

<g stroke="#000" stroke-width="1.8" fill="none" stroke-linecap="butt">
<rect x="44.5" y="5.9" width="298.60" height="240.40"/>
<line x1="39.90" y1="5.90" x2="44.50" y2="5.90"/><line x1="39.90" y1="45.97" x2="44.50" y2="45.97"/><line x1="39.90" y1="86.03" x2="44.50" y2="86.03"/><line x1="39.90" y1="126.10" x2="44.50" y2="126.10"/><line x1="39.90" y1="166.17" x2="44.50" y2="166.17"/><line x1="39.90" y1="206.23" x2="44.50" y2="206.23"/><line x1="39.90" y1="246.30" x2="44.50" y2="246.30"/><line x1="41.90" y1="25.93" x2="44.50" y2="25.93"/><line x1="41.90" y1="66.00" x2="44.50" y2="66.00"/><line x1="41.90" y1="106.07" x2="44.50" y2="106.07"/><line x1="41.90" y1="146.13" x2="44.50" y2="146.13"/><line x1="41.90" y1="186.20" x2="44.50" y2="186.20"/><line x1="41.90" y1="226.27" x2="44.50" y2="226.27"/><line x1="44.50" y1="246.30" x2="44.50" y2="250.90"/><line x1="94.27" y1="246.30" x2="94.27" y2="250.90"/><line x1="144.03" y1="246.30" x2="144.03" y2="250.90"/><line x1="193.80" y1="246.30" x2="193.80" y2="250.90"/><line x1="243.57" y1="246.30" x2="243.57" y2="250.90"/><line x1="293.33" y1="246.30" x2="293.33" y2="250.90"/><line x1="343.10" y1="246.30" x2="343.10" y2="250.90"/><line x1="69.38" y1="246.30" x2="69.38" y2="248.90"/><line x1="119.15" y1="246.30" x2="119.15" y2="248.90"/><line x1="168.92" y1="246.30" x2="168.92" y2="248.90"/><line x1="218.68" y1="246.30" x2="218.68" y2="248.90"/><line x1="268.45" y1="246.30" x2="268.45" y2="248.90"/><line x1="318.22" y1="246.30" x2="318.22" y2="248.90"/>
</g>
<g font-weight="bold" font-size="12.2" fill="#000"><text x="35.8" y="9.80" text-anchor="end">60</text><text x="35.8" y="49.87" text-anchor="end">40</text><text x="35.8" y="89.93" text-anchor="end">20</text><text x="35.8" y="130.00" text-anchor="end">0</text><text x="35.8" y="170.07" text-anchor="end">-20</text><text x="35.8" y="210.13" text-anchor="end">-40</text><text x="35.8" y="250.20" text-anchor="end">-60</text><text x="44.50" y="264.4" text-anchor="middle">-15</text><text x="94.27" y="264.4" text-anchor="middle">-10</text><text x="144.03" y="264.4" text-anchor="middle">-5</text><text x="193.80" y="264.4" text-anchor="middle">0</text><text x="243.57" y="264.4" text-anchor="middle">5</text><text x="293.33" y="264.4" text-anchor="middle">10</text><text x="343.10" y="264.4" text-anchor="middle">15</text></g>
<text x="193.6" y="289.3" text-anchor="middle" font-weight="bold" font-size="15.93">Applied Magnetic Field (kOe)</text>
<text transform="translate(12.8,126.2) rotate(-90)" text-anchor="middle" font-weight="bold" font-size="15.93">Magnetization (emu/g)</text>
<g font-size="9" fill="#1a1a1a">
<text x="324.5" y="14.2">(a)</text>
<text x="324.5" y="37.2">(b)</text>
<text x="324.5" y="64.6">(c)</text>
</g>
</svg>
</body></html>
